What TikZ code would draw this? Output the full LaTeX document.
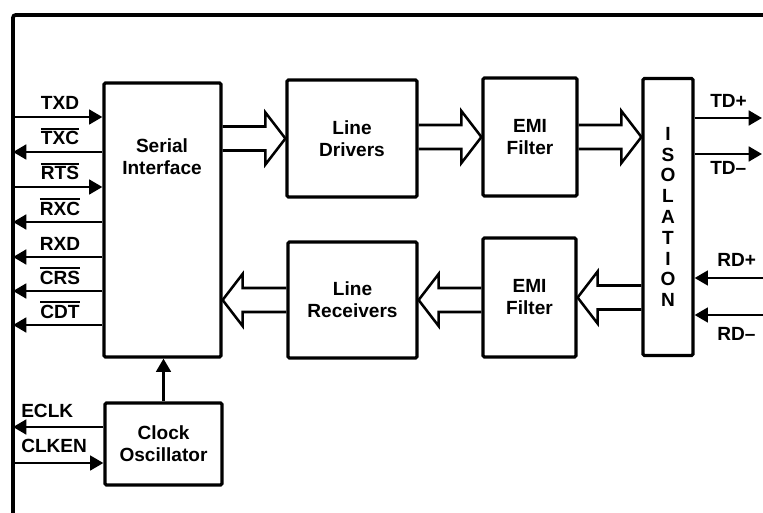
\documentclass[tikz,border=0pt]{standalone}
\usepackage{fontspec}
\setmainfont{Liberation Sans}
\usepackage{tikz}
\usetikzlibrary{arrows.meta,calc}
\newcommand\ovl[1]{\setbox0\hbox{#1}\rlap{\rule[\dimexpr\ht0+1.6pt\relax]{\wd0}{1.4pt}}\box0}

\begin{document}
\begin{tikzpicture}[
  x=0.75pt, y=-0.75pt,
  every node/.style={font=\fontsize{14.3}{16.5}\selectfont\bfseries},
  blk/.style={
    rectangle, rounded corners=1pt, draw=black, line width=2.4pt,
    inner sep=0pt, align=center
  },
  lbl/.style={anchor=base, inner sep=0pt},
  lblw/.style={anchor=base west, inner sep=0pt},
  sig/.style={line width=2.1pt, -{Triangle[length=10pt,width=11pt]}},
  hollow/.style={line width=1.9pt, line join=miter,
    to path={let \p1=(\tikztostart), \p2=(\tikztotarget), \n1={sign(\x2-\x1)} in
      (\x1,\y2+9pt) -- (\x2-\n1*15pt,\y2+9pt) -- (\x2-\n1*15pt,\y2+19.5pt)
      -- (\x2,\y2) -- (\x2-\n1*15pt,\y2-19.5pt) -- (\x2-\n1*15pt,\y2-9pt)
      -- (\x1,\y2-9pt)}},
  frame/.style={line width=2.8pt, rounded corners=2pt}
]
\useasboundingbox (0,0) rectangle (763,513);
\draw[frame] (13,513) -- (13,15) -- (763,15);

\node[blk, minimum width=87.75pt, minimum height=205.5pt] (serial) at (162.5,220) {};
\node[align=center] (serialtxt) at (162,157) {Serial\\Interface};

\node[blk, minimum width=97.5pt, minimum height=87.75pt] (drivers) at (352,138.5) {Line\\Drivers};
\node[blk, minimum width=70.5pt, minimum height=88.5pt] (emi1) at (530,137) {EMI\\Filter};
\node[blk, minimum width=96.75pt, minimum height=87pt] (rcv) at (352.5,300) {Line\\Receivers};
\node[blk, minimum width=69.75pt, minimum height=89.25pt] (emi2) at (529.5,297.5) {EMI\\Filter};

\node[blk, minimum width=37.5pt, minimum height=207.75pt,
  font=\fontsize{14.3}{15.6}\selectfont\bfseries] (iso) at (668,217)
  {I\\S\\O\\L\\A\\T\\I\\O\\N};

\node[blk, minimum width=87.75pt, minimum height=61.5pt] (clock) at (163.5,444) {Clock\\Oscillator};

% wide data paths
\draw[hollow] (serial.east) to (drivers.west);
\draw[hollow] (drivers.east) to (emi1.west);
\draw[hollow] (emi1.east) to (iso.west |- emi1.east);
\draw[hollow] (iso.west) to (emi2.east);
\draw[hollow] (emi2.west) to (rcv.east);
\draw[hollow] (rcv.west) to (serial.east |- rcv.west);

% serial port signals
\coordinate (txd) at (13,117);
\coordinate (txc) at (13,152);
\coordinate (rts) at (13,187);
\coordinate (rxc) at (13,222);
\coordinate (rxd) at (13,257);
\coordinate (crs) at (13,291);
\coordinate (cdt) at (13,325);

\draw[sig] (txd) -- (txd -| serial.west);
\draw[sig] (txc -| serial.west) -- (txc);
\draw[sig] (rts) -- (rts -| serial.west);
\draw[sig] (rxc -| serial.west) -- (rxc);
\draw[sig] (rxd -| serial.west) -- (rxd);
\draw[sig] (crs -| serial.west) -- (crs);
\draw[sig] (cdt -| serial.west) -- (cdt);

\node[lbl] (txdtxt) at (60,110) {TXD};
\node[lbl] (txctxt) at (60,145) {\ovl{TXC}};
\node[lbl] (rtstxt) at (60,180) {\ovl{RTS}};
\node[lbl] (rxctxt) at (60,215) {\ovl{RXC}};
\node[lbl] (rxdtxt) at (60,250) {RXD};
\node[lbl] (crstxt) at (60,284) {\ovl{CRS}};
\node[lbl] (cdttxt) at (60,318) {\ovl{CDT}};

% clock
\coordinate (eclk) at (13,427);
\coordinate (clken) at (13,463);
\draw[sig] (clock.north) -- (clock.north |- serial.south);
\draw[sig] (eclk -| clock.west) -- (eclk);
\draw[sig] (clken) -- (clken -| clock.west);
\node[lblw] (eclktxt) at (21,417) {ECLK};
\node[lblw] (clkentxt) at (21,452) {CLKEN};

% line side
\coordinate (tdp) at (762,118);
\coordinate (tdm) at (762,154);
\coordinate (rdp) at (763,278);
\coordinate (rdm) at (763,315);
\draw[sig] (tdp -| iso.east) -- (tdp);
\draw[sig] (tdm -| iso.east) -- (tdm);
\draw[sig] (rdp) -- (rdp -| iso.east);
\draw[sig] (rdm) -- (rdm -| iso.east);
\node[lblw] (tdptxt) at (710,108) {TD+};
\node[lblw] (tdmtxt) at (710,175) {TD\textendash};
\node[lblw] (rdptxt) at (717,267) {RD+};
\node[lblw] (rdmtxt) at (717,340) {RD\textendash};
\end{tikzpicture}
\end{document}
